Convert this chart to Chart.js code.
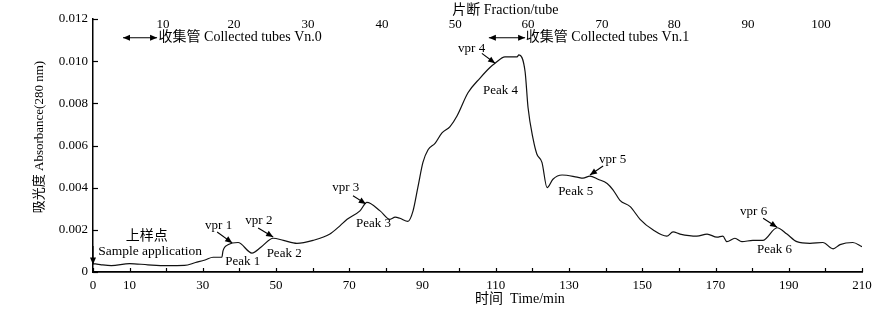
<!DOCTYPE html>
<html><head><meta charset="utf-8">
<script src="https://cdn.jsdelivr.net/npm/chart.js@4/dist/chart.umd.min.js"></script>
<style>html,body{margin:0;padding:0;background:#fff}#wrap{width:892px;height:316px}</style>
</head><body><div id="wrap"><canvas id="c" width="892" height="316"></canvas></div>
<script>
// ---- data ----
const timeMin = [0,2,5,10,15,20,25,28,30.6,32.8,35.2,35.5,37,39.6,43.4,46,49.2,52,55.7,60.1,64.7,67.5,69.4,72.9,74.8,78.4,81.1,82.5,83.8,86.0,87.4,88.7,90.1,91.5,93.4,95.3,97.5,99.4,102.4,105.7,108.4,109.8,112.5,115.8,116.3,118.0,118.8,120.2,121.2,122.6,124.0,125.6,128.1,132.2,133.8,135.7,137.9,140.4,142.0,143.9,146.7,149.4,152.9,156.7,158.4,160.3,164.9,167.7,170.4,172.0,173.1,175.3,177.2,180.2,182.9,186.8,189.5,192.2,195.8,199.3,202.1,204.0,207.5,210];
const absorbance = [0.00040,0.00035,0.00030,0.00040,0.00034,0.00030,0.00031,0.00045,0.00057,0.00070,0.00070,0.00100,0.00130,0.00140,0.00090,0.00120,0.00160,0.00150,0.00136,0.00150,0.00180,0.00220,0.00250,0.00290,0.00330,0.00290,0.00250,0.00260,0.00255,0.00240,0.00290,0.00400,0.00520,0.00580,0.00610,0.00660,0.00690,0.00740,0.00850,0.00920,0.00970,0.00990,0.01020,0.01020,0.01030,0.00950,0.00780,0.00630,0.00560,0.00520,0.00400,0.00440,0.00460,0.00450,0.00445,0.00455,0.00440,0.00420,0.00390,0.00340,0.00310,0.00250,0.00200,0.00170,0.00190,0.00180,0.00170,0.00180,0.00165,0.00170,0.00144,0.00160,0.00144,0.00150,0.00150,0.00210,0.00180,0.00144,0.00136,0.00140,0.00110,0.00130,0.00140,0.00120];
const xTickValues = [0,10,20,30,40,50,60,70,80,90,100,110,120,130,140,150,160,170,180,190,200,210];
const xTickLabels = [0,10,30,50,70,90,110,130,150,170,190,210];
const yTickValues = [0,0.002,0.004,0.006,0.008,0.010,0.012];
const tubeLabels = [10,20,30,40,50,60,70,80,90,100];
const tubeTimes = [19.1,38.5,58.7,78.9,98.9,118.8,139.0,158.7,178.9,198.8];

// annotation texts anchored at (time, absorbance)
const labels = [
  {text:'上样点', t:14.7, v:0.00170, size:14, align:'center'},
  {text:'Sample application', t:1.4, v:0.00096, size:13.5, align:'left'},
  {text:'vpr 1', t:34.3, v:0.00218, size:13, align:'center'},
  {text:'Peak 1', t:40.9, v:0.00049, size:13, align:'center'},
  {text:'vpr 2', t:45.3, v:0.00243, size:13, align:'center'},
  {text:'Peak 2', t:52.2, v:0.00089, size:13, align:'center'},
  {text:'vpr 3', t:69.0, v:0.00402, size:13, align:'center'},
  {text:'Peak 3', t:76.6, v:0.00228, size:13, align:'center'},
  {text:'vpr 4', t:103.4, v:0.01061, size:13, align:'center'},
  {text:'Peak 4', t:111.3, v:0.00860, size:13, align:'center'},
  {text:'vpr 5', t:141.9, v:0.00535, size:13, align:'center'},
  {text:'Peak 5', t:131.8, v:0.00381, size:13, align:'center'},
  {text:'vpr 6', t:180.4, v:0.00286, size:13, align:'center'},
  {text:'Peak 6', t:186.1, v:0.00104, size:13, align:'center'},
  {text:'收集管 Collected tubes Vn.0', t:17.9, v:0.01111, size:14, align:'left'},
  {text:'收集管 Collected tubes Vn.1', t:118.2, v:0.01111, size:14, align:'left'}
];
// arrows: from (t1,v1) to (t2,v2); double = heads on both ends
const arrows = [
  {t1:0, v1:0.00123, t2:0, v2:0.00036, double:false},
  {t1:33.9, v1:0.00190, t2:38.0, v2:0.00138, double:false},
  {t1:45.1, v1:0.00209, t2:49.2, v2:0.00166, double:false},
  {t1:71.0, v1:0.00362, t2:74.5, v2:0.00323, double:false},
  {t1:106.2, v1:0.01037, t2:109.8, v2:0.00990, double:false},
  {t1:139.3, v1:0.00503, t2:135.7, v2:0.00460, double:false},
  {t1:183.0, v1:0.00255, t2:186.8, v2:0.00212, double:false},
  {t1:8.2, v1:0.01111, t2:17.5, v2:0.01111, double:true},
  {t1:108.1, v1:0.01111, t2:118.0, v2:0.01111, double:true}
];

const FONT = '"Liberation Serif", "Noto Sans CJK SC", serif';

function head(ctx, x1, y1, x2, y2, len, wid){
  const a = Math.atan2(y2-y1, x2-x1);
  ctx.beginPath();
  ctx.moveTo(x2, y2);
  ctx.lineTo(x2 - len*Math.cos(a) + wid*Math.sin(a), y2 - len*Math.sin(a) - wid*Math.cos(a));
  ctx.lineTo(x2 - len*Math.cos(a) - wid*Math.sin(a), y2 - len*Math.sin(a) + wid*Math.cos(a));
  ctx.closePath();
  ctx.fill();
}

const deco = {
  id:'deco',
  afterDraw(chart){
    const ctx = chart.ctx, xs = chart.scales.x, ys = chart.scales.y;
    ctx.save();
    ctx.fillStyle = '#000'; ctx.strokeStyle = '#000';
    // inward tick marks
    ctx.lineWidth = 1.2;
    const y0 = ys.getPixelForValue(0);
    xTickValues.forEach(v=>{
      const x = Math.round(xs.getPixelForValue(v))+0.5;
      ctx.beginPath(); ctx.moveTo(x, y0); ctx.lineTo(x, y0-4); ctx.stroke();
    });
    const x0 = xs.getPixelForValue(0);
    yTickValues.forEach(v=>{
      const y = Math.round(ys.getPixelForValue(v))+0.5;
      ctx.beginPath(); ctx.moveTo(x0, y); ctx.lineTo(x0+5, y); ctx.stroke();
    });
    // top fraction numbers
    ctx.font = '13px ' + FONT; ctx.textAlign = 'center'; ctx.textBaseline = 'middle';
    const top = ys.getPixelForValue(0.012);
    tubeLabels.forEach((lab,i)=>{ ctx.fillText(String(lab), xs.getPixelForValue(tubeTimes[i]), top+6); });
    // axis titles
    ctx.font = '14px ' + FONT;
    ctx.fillText('片断 Fraction/tube', xs.getPixelForValue(112.6), top-9);
    ctx.fillText('时间  Time/min', xs.getPixelForValue(116.6), y0+27);
    ctx.save();
    ctx.translate(40, ys.getPixelForValue(0.0064));
    ctx.rotate(-Math.PI/2);
    ctx.font = '13px ' + FONT;
    ctx.fillText('吸光度 Absorbance(280 nm)', 0, 0);
    ctx.restore();
    // annotation labels
    labels.forEach(l=>{
      ctx.font = l.size + 'px ' + FONT; ctx.textAlign = l.align;
      ctx.fillText(l.text, xs.getPixelForValue(l.t), ys.getPixelForValue(l.v));
    });
    // arrows
    ctx.lineWidth = 1.1;
    arrows.forEach(a=>{
      const X1 = xs.getPixelForValue(a.t1), Y1 = ys.getPixelForValue(a.v1);
      const X2 = xs.getPixelForValue(a.t2), Y2 = ys.getPixelForValue(a.v2);
      ctx.beginPath(); ctx.moveTo(X1,Y1); ctx.lineTo(X2,Y2); ctx.stroke();
      head(ctx, X1, Y1, X2, Y2, 7, 3);
      if (a.double) head(ctx, X2, Y2, X1, Y1, 7, 3);
    });
    ctx.restore();
  }
};

new Chart(document.getElementById('c').getContext('2d'), {
  type:'line',
  data:{datasets:[{
    data: timeMin.map((t,i)=>({x:t, y:absorbance[i]})),
    borderColor:'#111', borderWidth:1.2, pointRadius:0, fill:false,
    cubicInterpolationMode:'monotone'
  }]},
  options:{
    responsive:false, animation:false, devicePixelRatio:1,
    layout:{padding:{left:0, right:30, top:19, bottom:0}},
    plugins:{legend:{display:false}, tooltip:{enabled:false}},
    scales:{
      x:{
        type:'linear', min:0, max:210,
        afterBuildTicks: s => { s.ticks = xTickValues.map(v=>({value:v})); },
        afterFit: s => { s.height = 44; },
        ticks:{autoSkip:false, maxRotation:0, padding:6, color:'#000',
          font:{family:FONT, size:13},
          callback: v => xTickLabels.includes(v) ? String(v) : ''},
        grid:{display:false, drawTicks:false, tickLength:0},
        border:{display:true, color:'#000', width:1.8}
      },
      y:{
        min:0, max:0.012,
        afterBuildTicks: s => { s.ticks = yTickValues.map(v=>({value:v})); },
        afterFit: s => { s.width = 93; },
        ticks:{padding:5, color:'#000', font:{family:FONT, size:13},
          callback: v => v === 0 ? '0' : v.toFixed(3)},
        grid:{display:false, drawTicks:false, tickLength:0},
        border:{display:true, color:'#000', width:1.5}
      }
    }
  },
  plugins:[deco]
});
</script></body></html>
